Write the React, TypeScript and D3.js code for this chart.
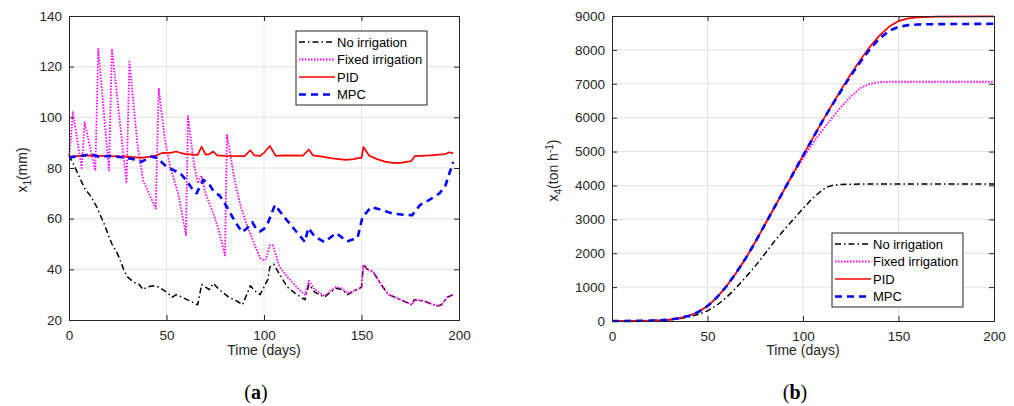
import React, { useEffect, useRef } from 'react';
import * as d3 from 'd3';

type Pt = [number, number];

// ---- panel (a): soil water x1 (mm) ----
const noIrrA: Pt[] = [
  [0, 85], [2, 82], [5, 77], [8, 72], [11, 69], [14, 65], [18, 58], [22, 50], [25, 46], [28, 40],
  [30, 37], [33, 35], [36, 34], [38, 32], [40, 33], [43, 33.5], [46, 33], [50, 31], [53, 29],
  [55, 30], [58, 29], [62, 27.5], [66, 26], [68, 34], [70, 33], [72, 32], [74, 34.5], [77, 32],
  [82, 29], [86, 27.5], [89, 26], [93, 33.5], [96, 31], [98, 30], [100, 33], [102, 36], [103, 41],
  [105, 42], [108, 38], [112, 33], [116, 30.5], [121, 28], [123, 34], [126, 31], [131, 29],
  [134, 31], [137, 32.5], [140, 32], [143, 30], [146, 31.5], [149, 32.5], [150, 33], [151, 42],
  [153, 40], [156, 39], [160, 34], [164, 30], [170, 28], [176, 26], [177, 28], [182, 27.5],
  [189, 25.5], [191, 26], [194, 29], [197, 30],
];

const fixedIrrA: Pt[] = [
  [0, 85], [1, 92], [2, 102], [6.5, 80], [8, 98], [13.5, 79], [15, 127], [20.5, 79], [22, 127],
  [29.5, 74], [31, 122], [35, 90], [38, 75], [44.5, 64], [46, 111.5], [49, 92], [52, 80], [56, 70],
  [60, 53.5], [61, 100.5], [64, 82], [66, 74], [68, 77], [70, 70], [74, 62], [77, 55], [80, 45.5],
  [81, 93], [85, 75], [88, 65], [91, 58], [95, 50], [98, 44.5], [100, 43.5], [101, 44],
  [103, 49.5], [104.5, 49.5], [106, 46], [108, 41], [112, 37], [115, 34.5], [118, 32], [121, 30],
  [123, 35.5], [126, 32], [131, 29.5], [134, 31.5], [137, 33], [140, 32.5], [143, 30.5],
  [146, 31.5], [149, 32.5], [150, 33], [151, 42], [153, 40], [156, 39], [160, 34], [164, 30],
  [170, 28], [176, 26], [177, 28], [182, 27.5], [189, 25.5], [191, 26], [194, 29], [197, 30],
];

const pidA: Pt[] = [
  [0, 84.5], [10, 85], [20, 84.7], [30, 84.5], [37, 84], [42, 84.5], [45, 85], [48, 86], [52, 86],
  [55, 86.5], [57, 86], [60, 85.5], [66, 85.2], [68, 88.4], [70, 85.3], [72, 85.5], [74, 86.5],
  [76, 85], [80, 84.8], [90, 84.7], [93, 87], [95, 85], [98, 84.8], [100, 86], [103, 88.7],
  [106, 84.8], [110, 85], [120, 84.9], [123, 87.3], [125, 85], [130, 84.5], [135, 83.8],
  [142, 83.2], [146, 83.5], [148.7, 84], [150, 84], [151, 88.3], [154, 84.8], [158, 83.5],
  [162, 82.5], [166, 82], [170, 82], [175.4, 82.7], [177.4, 84.7], [185, 85], [190, 85.3],
  [193, 85.5], [195, 86.2], [197, 85.8],
];

const mpcA: Pt[] = [
  [0, 84], [3, 84.5], [8, 85], [11, 85.5], [15, 84.5], [22, 84.8], [29, 84], [33, 83.5], [37, 82.4],
  [40, 83.5], [42, 84.5], [45, 84], [48, 82], [50, 80.5], [54, 79], [57, 78], [60, 75.3], [63, 72],
  [65.4, 70], [68.8, 75.3], [72, 73.5], [74, 71], [77.4, 69], [81, 64.6], [85, 59], [88.7, 54.7],
  [91, 56], [94, 58.6], [96, 56], [98, 55], [100, 56], [102, 58.3], [105.6, 65.4], [110, 61],
  [115, 56.3], [121, 50.8], [122.7, 56.3], [126, 53], [131, 50.8], [137, 54.3], [142.6, 51],
  [148, 52.5], [150.5, 60.6], [155, 64.6], [160, 63.5], [166, 62], [172, 61.5], [176, 61.4],
  [180, 65.4], [185, 67.5], [190, 70], [193, 73], [197, 82.4],
];

// ---- panel (b): yield x4 (ton h^-1) ----
const noIrrB: Pt[] = [
  [0, 0], [10, 2], [20, 10], [30, 35], [35, 65], [40, 120], [45, 190], [50, 300], [55, 470],
  [60, 700], [65, 980], [70, 1290], [75, 1620], [80, 1980], [85, 2350], [90, 2680], [95, 3000],
  [100, 3320], [105, 3620], [110, 3860], [113, 3960], [116, 4010], [120, 4030], [130, 4040],
  [160, 4040], [200, 4040],
];

const fixedIrrB: Pt[] = [
  [0, 0], [10, 3], [20, 10], [25, 20], [30, 40], [35, 80], [40, 150], [45, 260], [50, 440],
  [55, 700], [60, 1030], [65, 1420], [70, 1850], [75, 2330], [80, 2840], [85, 3350], [90, 3860],
  [95, 4340], [100, 4800], [105, 5230], [110, 5620], [115, 5980], [120, 6320], [125, 6620],
  [130, 6870], [135, 7000], [140, 7050], [145, 7060], [160, 7060], [200, 7060],
];

const pidB: Pt[] = [
  [0, 0], [10, 3], [20, 10], [25, 20], [30, 40], [35, 80], [40, 150], [45, 260], [50, 440],
  [55, 700], [60, 1030], [65, 1420], [70, 1850], [75, 2330], [80, 2840], [85, 3350], [90, 3860],
  [95, 4370], [100, 4880], [105, 5380], [110, 5880], [115, 6360], [120, 6830], [125, 7280],
  [130, 7700], [135, 8090], [140, 8420], [145, 8680], [150, 8850], [155, 8930], [160, 8960],
  [170, 8980], [200, 8990],
];

const mpcB: Pt[] = [
  [0, 0], [10, 3], [20, 10], [25, 20], [30, 40], [35, 80], [40, 150], [45, 260], [50, 440],
  [55, 700], [60, 1030], [65, 1420], [70, 1850], [75, 2330], [80, 2840], [85, 3350], [90, 3860],
  [95, 4370], [100, 4880], [105, 5380], [110, 5880], [115, 6350], [120, 6800], [125, 7240],
  [130, 7640], [135, 8020], [140, 8330], [145, 8560], [150, 8680], [155, 8730], [160, 8750],
  [170, 8760], [200, 8770],
];

const seriesNames = ['No irrigation', 'Fixed irrigation', 'PID', 'MPC'];
const xTicks = [0, 50, 100, 150, 200];
const yTicksA = [20, 40, 60, 80, 100, 120, 140];
const yTicksB = [0, 1000, 2000, 3000, 4000, 5000, 6000, 7000, 8000, 9000];

const styles = [
  { color: '#000000', width: 1.5, dash: '6,3,1.5,3' },
  { color: '#ff00ff', width: 1.8, dash: '1.5,1.5' },
  { color: '#ff0000', width: 1.7, dash: '' },
  { color: '#0000ff', width: 2.6, dash: '7,5' },
];

const FONT = "'Liberation Sans', Arial, Helvetica, sans-serif";
const INK = '#262626';

interface PanelProps {
  x0: number;
  x1: number;
  y0: number;
  y1: number;
  yDomain: [number, number];
  yTicks: number[];
  series: Pt[][];
  legend: { x: number; y: number };
  yLabel: 'a' | 'b';
  caption: string;
}

const Panel: React.FC<PanelProps> = ({ x0, x1, y0, y1, yDomain, yTicks, series, legend, yLabel, caption }) => {
  const gRef = useRef<SVGGElement>(null);

  useEffect(() => {
    const g = d3.select(gRef.current);
    g.selectAll('*').remove();

    const x = d3.scaleLinear().domain([0, 200]).range([x0, x1]);
    const y = d3.scaleLinear().domain(yDomain).range([y1, y0]);
    const fmt = d3.format('d');

    // grid
    const grid = g.append('g').attr('stroke', '#e3e3e3').attr('stroke-width', 1);
    grid.selectAll('line.vx').data(xTicks.slice(1, -1)).join('line')
      .attr('x1', d => x(d)).attr('x2', d => x(d)).attr('y1', y0).attr('y2', y1);
    grid.selectAll('line.hy').data(yTicks.slice(1, -1)).join('line')
      .attr('y1', d => y(d)).attr('y2', d => y(d)).attr('x1', x0).attr('x2', x1);

    // lines
    const line = d3.line<Pt>().x(d => x(d[0])).y(d => y(d[1]));
    series.forEach((s, i) => {
      g.append('path')
        .datum(s)
        .attr('d', line)
        .attr('fill', 'none')
        .attr('stroke', styles[i].color)
        .attr('stroke-width', styles[i].width)
        .attr('stroke-dasharray', styles[i].dash)
        .attr('stroke-linejoin', 'round');
    });

    // axes, ticks inward (box on)
    const axes: [d3.Axis<d3.NumberValue>, string][] = [
      [d3.axisBottom(x).tickValues(xTicks).tickSize(-5).tickPadding(10).tickFormat(fmt), `translate(0,${y1})`],
      [d3.axisTop(x).tickValues(xTicks).tickSize(-5).tickFormat(() => ''), `translate(0,${y0})`],
      [d3.axisLeft(y).tickValues(yTicks).tickSize(-5).tickPadding(7).tickFormat(fmt), `translate(${x0},0)`],
      [d3.axisRight(y).tickValues(yTicks).tickSize(-5).tickFormat(() => ''), `translate(${x1},0)`],
    ];
    axes.forEach(([ax, tr]) => {
      const a = g.append('g').attr('transform', tr).call(ax);
      a.select('.domain').attr('stroke', INK).attr('stroke-width', 1);
      a.selectAll('.tick line').attr('stroke', INK);
      a.selectAll('.tick text').attr('fill', INK).attr('font-size', 13.5).attr('font-family', FONT);
    });

    // legend
    const lw = 131;
    const lh = 74;
    const lg = g.append('g').attr('transform', `translate(${legend.x},${legend.y})`);
    lg.append('rect').attr('width', lw).attr('height', lh)
      .attr('fill', '#fff').attr('stroke', INK).attr('stroke-width', 1);
    seriesNames.forEach((name, i) => {
      const ry = 11 + i * 17.5;
      lg.append('line').attr('x1', 3).attr('x2', 39).attr('y1', ry).attr('y2', ry)
        .attr('stroke', styles[i].color).attr('stroke-width', styles[i].width)
        .attr('stroke-dasharray', styles[i].dash);
      lg.append('text').attr('x', 41).attr('y', ry).attr('dy', '0.35em')
        .attr('font-size', 13).attr('font-family', FONT).attr('fill', '#000').text(name);
    });
  }, [x0, x1, y0, y1, yDomain, yTicks, series, legend]);

  const xMid = (x0 + x1) / 2;
  const yMid = (y0 + y1) / 2 + 2;
  return (
    <g>
      <g ref={gRef} />
      <text x={xMid} y={355} textAnchor="middle" fontSize={14} fontFamily={FONT} fill={INK}>
        Time (days)
      </text>
      {yLabel === 'a' ? (
        <text transform={`translate(${x0 - 42},${yMid}) rotate(-90)`} textAnchor="middle"
          fontSize={14} fontFamily={FONT} fill={INK}>
          x<tspan fontSize={10} dy={4}>1</tspan><tspan dy={-4}>(mm)</tspan>
        </text>
      ) : (
        <text transform={`translate(${x0 - 54},${yMid}) rotate(-90)`} textAnchor="middle"
          fontSize={14} fontFamily={FONT} fill={INK}>
          x<tspan fontSize={10} dy={4}>4</tspan><tspan dy={-4}>(ton h</tspan>
          <tspan fontSize={10} dy={-5}>-1</tspan><tspan dy={5}>)</tspan>
        </text>
      )}
      <text x={xMid - 8} y={399} textAnchor="middle" fontSize={20}
        fontFamily="'Liberation Serif', 'DejaVu Serif', serif" fill="#000">
        (<tspan fontWeight="bold">{caption}</tspan>)
      </text>
    </g>
  );
};

const seriesA = [noIrrA, fixedIrrA, pidA, mpcA];
const seriesB = [noIrrB, fixedIrrB, pidB, mpcB];
const domA: [number, number] = [20, 140];
const domB: [number, number] = [0, 9000];
const legA = { x: 296, y: 31 };
const legB = { x: 832, y: 233 };

export default function App() {
  return (
    <svg width={1014} height={406} style={{ position: 'absolute', left: 0, top: 0, background: '#fff' }}>
      <Panel x0={69} x1={459} y0={16} y1={320} yDomain={domA} yTicks={yTicksA}
        series={seriesA} legend={legA} yLabel="a" caption="a" />
      <Panel x0={612} x1={994} y0={16} y1={321} yDomain={domB} yTicks={yTicksB}
        series={seriesB} legend={legB} yLabel="b" caption="b" />
    </svg>
  );
}
